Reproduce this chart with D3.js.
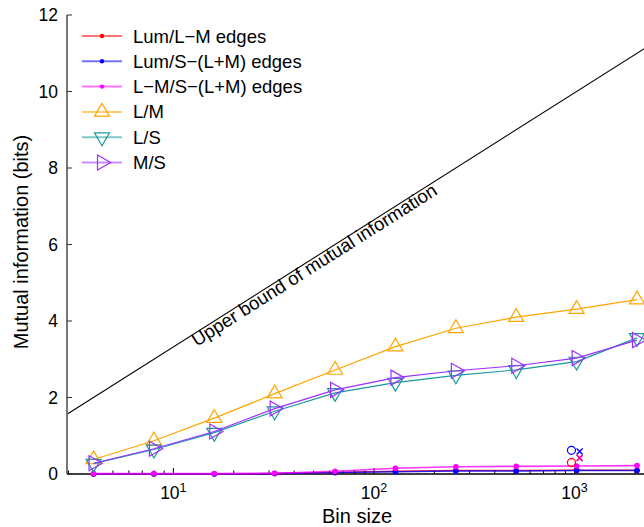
<!DOCTYPE html>
<html>
<head>
<meta charset="utf-8">
<script src="https://cdn.jsdelivr.net/npm/d3@7"></script>
<style>
  body { margin: 0; background: #fff; }
  svg { display: block; font-family: "Liberation Sans", Arial, Helvetica, sans-serif; }
</style>
</head>
<body>
<svg id="chart"></svg>
<script>
// bin sizes on the x axis
var bins = [4, 8, 16, 32, 64, 128, 256, 512, 1024, 2048];

// edge series (dots)
var lumLM = [0, 0, 0, 0.01, 0.04, 0.07, 0.09, 0.09, 0.1, 0.1];
var lumS  = [0, 0, 0, 0.01, 0.04, 0.06, 0.08, 0.08, 0.09, 0.09];
var lmS   = [0.01, 0.01, 0.01, 0.02, 0.07, 0.15, 0.19, 0.2, 0.21, 0.22];

// cone contrast series (triangles)
var LM = [0.38, 0.87, 1.46, 2.1, 2.72, 3.33, 3.81, 4.1, 4.31, 4.56];
var LS = [0.27, 0.64, 1.08, 1.64, 2.12, 2.39, 2.58, 2.72, 2.94, 3.56];
var MS = [0.28, 0.66, 1.11, 1.71, 2.2, 2.52, 2.7, 2.83, 3.03, 3.5];

// single markers near bin 1000
var extraPts = [
  {bin: 965, v: 0.62, color: "#0000ff", shape: "circle"},
  {bin: 1060, v: 0.59, color: "#0000ff", shape: "cross"},
  {bin: 965, v: 0.3, color: "#ff0000", shape: "circle"},
  {bin: 1060, v: 0.42, color: "#ff0000", shape: "cross"},
  {bin: 1060, v: 0.42, color: "#ff00ff", shape: "cross"}
];

var boundBins = [2.95, 2350];
var yTicks = [0, 2, 4, 6, 8, 10, 12];
var xMajor = [10, 100, 1000];

var series = [
  {name: "Lum/L\u2212M edges", vals: lumLM, color: "#ff0000", marker: "dot"},
  {name: "Lum/S\u2212(L+M) edges", vals: lumS, color: "#0000ff", marker: "dot"},
  {name: "L\u2212M/S\u2212(L+M) edges", vals: lmS, color: "#ff00ff", marker: "dot"},
  {name: "L/M", vals: LM, color: "#ffa500", marker: "up"},
  {name: "L/S", vals: LS, color: "#1a9a9a", marker: "down"},
  {name: "M/S", vals: MS, color: "#9b30ff", marker: "right"}
];

function main(){
  var W = 644, H = 527;
  var svg = d3.select("#chart").attr("width", W).attr("height", H);

  var x = d3.scaleLog().domain(boundBins).range([67, 649]);
  var y = d3.scaleLinear().domain([0, 12]).range([474, 15]);

  var tri = {
    up: "M0,-8.5L-7.5,4.3L7.5,4.3Z",
    down: "M0,8.5L-7.5,-4.3L7.5,-4.3Z",
    right: "M8.7,0L-4.5,-7.5L-4.5,7.5Z"
  };

  // upper bound line = log2(bin size)
  var line = d3.line().x(function(d){ return x(d); }).y(function(d){ return y(Math.log2(d)); });
  svg.append("path")
    .attr("d", line(boundBins))
    .attr("fill", "none")
    .attr("stroke", "#000")
    .attr("stroke-width", 1.1);

  // label along the bound line
  var b1 = 12.1, b2 = 100;
  var ang = Math.atan2(y(Math.log2(b2)) - y(Math.log2(b1)), x(b2) - x(b1)) * 180 / Math.PI;
  svg.append("text")
    .attr("transform", "translate(" + x(b1) + "," + y(Math.log2(b1)) + ") rotate(" + ang + ") translate(0,12.5)")
    .attr("font-size", "18.6px")
    .text("Upper bound of mutual information");

  // axes
  svg.append("line")
    .attr("x1", x(boundBins[0])).attr("x2", W)
    .attr("y1", y(0)).attr("y2", y(0))
    .attr("stroke", "#000").attr("stroke-width", 1.5);
  svg.append("line")
    .attr("x1", x(boundBins[0])).attr("x2", x(boundBins[0]))
    .attr("y1", y(0)).attr("y2", y(12))
    .attr("stroke", "#777").attr("stroke-width", 2);

  yTicks.forEach(function(t){
    svg.append("line")
      .attr("x1", x(boundBins[0])).attr("x2", x(boundBins[0]) + 5)
      .attr("y1", y(t)).attr("y2", y(t))
      .attr("stroke", "#333").attr("stroke-width", 1);
    svg.append("text")
      .attr("x", 58).attr("y", y(t) + 6)
      .attr("text-anchor", "end")
      .attr("font-size", "17.5px")
      .text(t);
  });

  // log ticks
  var minor = [];
  [1, 10, 100, 1000].forEach(function(dec){
    for (var k = 1; k <= 9; k++) {
      var v = dec * k;
      if (v > boundBins[0] && v < boundBins[1]) minor.push(v);
    }
  });
  minor.forEach(function(v){
    var major = xMajor.indexOf(v) >= 0;
    svg.append("line")
      .attr("x1", x(v)).attr("x2", x(v))
      .attr("y1", y(0)).attr("y2", y(0) - (major ? 6 : 3.5))
      .attr("stroke", "#000").attr("stroke-width", 1);
  });
  xMajor.forEach(function(v){
    var t = svg.append("text")
      .attr("x", x(v)).attr("y", 499)
      .attr("text-anchor", "middle")
      .attr("font-size", "17.5px");
    t.append("tspan").text("10");
    t.append("tspan").attr("font-size", "12.5px").attr("dy", -7).text(Math.round(Math.log10(v)));
  });

  svg.append("text")
    .attr("x", 357).attr("y", 522.5)
    .attr("text-anchor", "middle")
    .attr("font-size", "20px")
    .text("Bin size");
  svg.append("text")
    .attr("transform", "translate(28,242) rotate(-90)")
    .attr("text-anchor", "middle")
    .attr("font-size", "20px")
    .text("Mutual information (bits)");

  // series lines and markers
  var sline = d3.line().x(function(d, i){ return x(bins[i]); }).y(function(d){ return y(d); });
  series.forEach(function(s){
    svg.append("path")
      .attr("d", sline(s.vals))
      .attr("fill", "none")
      .attr("stroke", s.color)
      .attr("stroke-opacity", s.marker == "dot" ? 0.8 : 1)
      .attr("stroke-width", s.marker == "dot" ? 1.6 : 1.2);
    var g = svg.append("g");
    if (s.marker == "dot") {
      g.selectAll("circle").data(s.vals).enter().append("circle")
        .attr("cx", function(d, i){ return x(bins[i]); })
        .attr("cy", function(d){ return y(d); })
        .attr("r", 2.8)
        .attr("fill", s.color);
    } else {
      g.selectAll("path").data(s.vals).enter().append("path")
        .attr("d", tri[s.marker])
        .attr("transform", function(d, i){ return "translate(" + x(bins[i]) + "," + y(d) + ")"; })
        .attr("fill", "none")
        .attr("stroke", s.color)
        .attr("stroke-width", 1.2);
    }
  });

  // single points
  extraPts.forEach(function(p){
    if (p.shape == "circle") {
      svg.append("circle")
        .attr("cx", x(p.bin)).attr("cy", y(p.v)).attr("r", 4)
        .attr("fill", "none").attr("stroke", p.color).attr("stroke-width", 1.2);
    } else {
      svg.append("path")
        .attr("d", "M-3,-3L3,3M-3,3L3,-3")
        .attr("transform", "translate(" + x(p.bin) + "," + y(p.v) + ")")
        .attr("stroke", p.color).attr("stroke-width", 1.4)
        .attr("stroke-opacity", p.color == "#ff00ff" ? 0.7 : 1);
    }
  });

  // legend
  var leg = svg.append("g");
  series.forEach(function(s, i){
    var ly = 36 + i * 25.3;
    leg.append("line")
      .attr("x1", 82).attr("x2", 122).attr("y1", ly).attr("y2", ly)
      .attr("stroke", s.color).attr("stroke-opacity", 0.55).attr("stroke-width", 2);
    if (s.marker == "dot") {
      leg.append("circle").attr("cx", 102).attr("cy", ly).attr("r", 2.2).attr("fill", s.color);
    } else {
      leg.append("path").attr("d", tri[s.marker])
        .attr("transform", "translate(102," + ly + ")")
        .attr("fill", "none").attr("stroke", s.color).attr("stroke-width", 1.2);
    }
    leg.append("text")
      .attr("x", 133).attr("y", ly + 6.5)
      .attr("font-size", "18.5px")
      .text(s.name);
  });
}
main();
</script>
</body>
</html>
